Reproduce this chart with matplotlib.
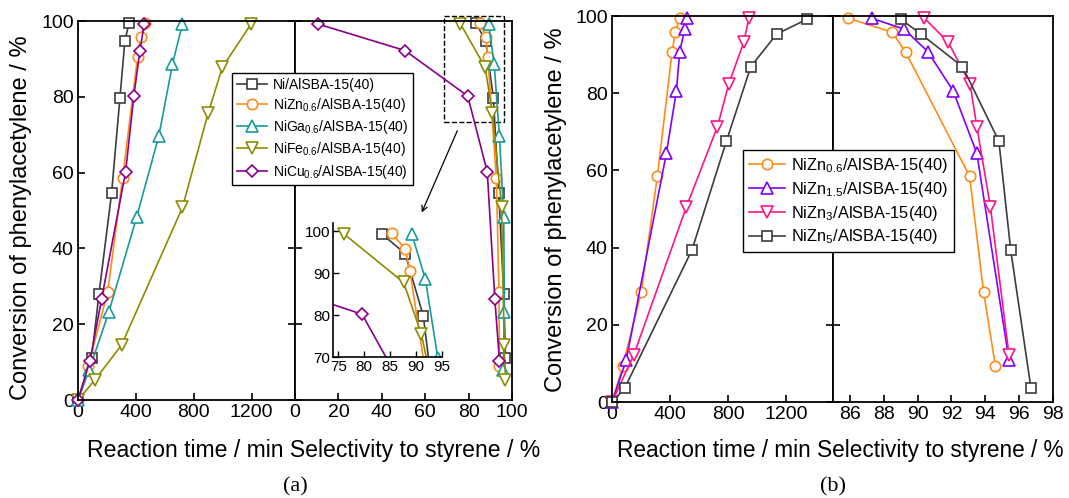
import matplotlib.pyplot as plt
from matplotlib.patches import Rectangle

plt.rcParams['font.family'] = ['Liberation Sans', 'DejaVu Sans']
plt.rcParams['mathtext.default'] = 'regular'

# ---- panel (a): conversion vs time, selectivity vs conversion ----
labels_a = ['Ni/AlSBA-15(40)', 'NiZn$_{0.6}$/AlSBA-15(40)', 'NiGa$_{0.6}$/AlSBA-15(40)',
            'NiFe$_{0.6}$/AlSBA-15(40)', 'NiCu$_{0.6}$/AlSBA-15(40)']
time_a = [
    [0, 94, 145, 232, 290, 324, 352],
    [0, 71, 205, 308, 412, 434, 462],
    [0, 78, 214, 405, 559, 653, 722],
    [0, 117, 301, 722, 899, 998, 1198],
    [0, 83, 163, 329, 386, 428, 458],
]
conv_a = [
    [0, 11, 28, 54.5, 79.8, 94.7, 99.4],
    [0, 9, 28.4, 58.5, 90.6, 95.9, 99.5],
    [0, 8, 23.3, 48.2, 69.7, 88.6, 99.3],
    [0, 5.3, 14.5, 50.8, 75.6, 87.8, 99.3],
    [0, 10.4, 26.6, 60.2, 80.2, 92.2, 99.2],
]
# selectivity at the non-zero conversions above
sel_a = [
    [97.0, 96.2, 93.9, 91.4, 87.9, 83.4],
    [94.2, 94.0, 92.8, 88.8, 87.9, 85.3],
    [96.0, 96.5, 96.2, 94.2, 91.8, 89.2],
    [97.0, 96.4, 95.2, 91.0, 87.6, 76.2],
    [94.2, 92.1, 88.6, 79.6, 50.7, 10.6],
]
colors_a = ['#3c3c3c', '#ff8c1a', '#1a9a9a', '#8c8c00', '#8b008b']
markers_a = ['s', 'o', '^', 'v', 'D']

# ---- panel (b) ----
labels_b = ['NiZn$_{0.6}$/AlSBA-15(40)', 'NiZn$_{1.5}$/AlSBA-15(40)',
            'NiZn$_{3}$/AlSBA-15(40)', 'NiZn$_{5}$/AlSBA-15(40)']
time_b = [
    [0, 74, 201, 312, 413, 436, 466],
    [0, 98, 374, 443, 466, 500, 519],
    [0, 150, 512, 725, 803, 907, 941],
    [0, 86, 550, 787, 955, 1132, 1343],
]
conv_b = [
    [0, 9.3, 28.4, 58.5, 90.6, 95.8, 99.4],
    [0, 10.9, 64.4, 80.6, 90.8, 96.6, 99.4],
    [0, 12.2, 50.6, 71.3, 82.4, 93.3, 99.4],
    [0, 3.5, 39.4, 67.6, 86.9, 95.3, 99.2],
]
sel_b = [
    [94.6, 93.9, 93.07, 89.3, 88.5, 85.9],
    [95.4, 93.5, 92.1, 90.6, 89.2, 87.3],
    [95.4, 94.3, 93.5, 93.1, 91.8, 90.4],
    [96.7, 95.5, 94.8, 92.65, 90.2, 89.0],
]
colors_b = ['#ff8c1a', '#8000ff', '#ff1488', '#3c3c3c']
markers_b = ['o', '^', 'v', 's']

msize = {'s': 6.5, 'o': 7.5, '^': 8, 'v': 8, 'D': 6.5}

W, H = 1069, 498
fig = plt.figure(figsize=(W / 100, H / 100), dpi=100)


def box(x0, y0, x1, y1):
    return [x0 / W, 1 - y1 / H, (x1 - x0) / W, (y1 - y0) / H]


def style(ax, left_side):
    for sp in ax.spines.values():
        sp.set_linewidth(1.3)
    ax.tick_params(direction='in', length=5, width=1.2, labelsize=14, pad=3,
                   top=False, right=left_side, left=True, labelleft=left_side)


def draw(ax, x, y, c, m, label=None):
    ax.plot(x, y, color=c, marker=m, ms=msize[m], mfc='white', mec=c, mew=1.2,
            lw=1.2, label=label, clip_on=False)


ax_at = fig.add_axes(box(78, 21, 295, 400))
ax_as = fig.add_axes(box(295, 21, 512, 400))
ax_bt = fig.add_axes(box(612, 16, 833, 402))
ax_bs = fig.add_axes(box(833, 16, 1053, 402))

for i in range(5):
    draw(ax_at, time_a[i], conv_a[i], colors_a[i], markers_a[i], labels_a[i])
    draw(ax_as, sel_a[i], conv_a[i][1:], colors_a[i], markers_a[i])
for i in range(4):
    draw(ax_bt, time_b[i], conv_b[i], colors_b[i], markers_b[i], labels_b[i])
    draw(ax_bs, sel_b[i], conv_b[i][1:], colors_b[i], markers_b[i])

for ax in (ax_at, ax_bt):
    style(ax, True)
    ax.set_xticks([0, 400, 800, 1200])
    ax.set_yticks([0, 20, 40, 60, 80, 100])
    ax.set_ylim(0, 100)
for ax in (ax_as, ax_bs):
    style(ax, False)
    ax.set_ylim(0, 100)
    ax.set_yticks([0, 20, 40, 60, 80, 100])
ax_at.set_xlim(0, 1500)
ax_bt.set_xlim(0, 1520)
ax_as.set_xlim(0, 100)
ax_as.set_xticks([0, 20, 40, 60, 80, 100])
ax_bs.set_xlim(85, 98)
ax_bs.set_xticks([86, 88, 90, 92, 94, 96, 98])

# zoom box + arrow
ax_as.add_patch(Rectangle((68.7, 73.4), 27.6, 28.0, fill=False, ls='--', lw=1.0,
                          ec='black', clip_on=False, zorder=1))
ax_as.annotate('', xy=(57.9, 48.8), xytext=(75.3, 71.7),
               arrowprops=dict(arrowstyle='->', color='black', lw=0.9))

# inset
ax_in = fig.add_axes(box(333, 223, 442, 357))
for i in range(5):
    ax_in.plot(sel_a[i], conv_a[i][1:], color=colors_a[i], marker=markers_a[i],
               ms=msize[markers_a[i]], mfc='white', mec=colors_a[i], mew=1.2, lw=1.2)
ax_in.set_xlim(74, 95)
ax_in.set_ylim(70, 102)
ax_in.set_xticks([75, 80, 85, 90, 95])
ax_in.set_yticks([70, 80, 90, 100])
ax_in.spines['top'].set_visible(False)
ax_in.spines['right'].set_visible(False)
for sp in ax_in.spines.values():
    sp.set_linewidth(1.2)
ax_in.tick_params(direction='in', length=4, width=1.0, labelsize=11, pad=2)

# legends
h, l = ax_at.get_legend_handles_labels()
leg = fig.legend(h, l, loc='upper left', bbox_to_anchor=(232 / W, 1 - 73 / H),
                 borderaxespad=0, fontsize=10, frameon=True, fancybox=False,
                 edgecolor='black', framealpha=1, handlelength=2.2,
                 labelspacing=0.3, borderpad=0.35, handletextpad=0.4)
leg.get_frame().set_linewidth(1.0)
h, l = ax_bt.get_legend_handles_labels()
leg = fig.legend(h, l, loc='upper left', bbox_to_anchor=(743 / W, 1 - 150 / H),
                 borderaxespad=0, fontsize=11.8, frameon=True, fancybox=False,
                 edgecolor='black', framealpha=1, handlelength=2.2,
                 labelspacing=0.3, borderpad=0.35, handletextpad=0.4)
leg.get_frame().set_linewidth(1.0)

# axis labels
fig.text(21 / W, 1 - 218 / H, 'Conversion of phenylacetylene / %', rotation=90,
         ha='center', va='center', fontsize=17)
fig.text(556 / W, 1 - 210 / H, 'Conversion of phenylacetylene / %', rotation=90,
         ha='center', va='center', fontsize=17)
fig.text(313.5 / W, 1 - 450 / H, 'Reaction time / min Selectivity to styrene / %',
         ha='center', va='center', fontsize=16.6)
fig.text(840 / W, 1 - 450 / H, 'Reaction time / min Selectivity to styrene / %',
         ha='center', va='center', fontsize=16.3)
fig.text(295 / W, 1 - 487 / H, '(a)', ha='center', va='center', fontsize=16,
         family='Liberation Serif')
fig.text(833 / W, 1 - 487 / H, '(b)', ha='center', va='center', fontsize=16,
         family='Liberation Serif')

fig.savefig('out.png', dpi=100)
